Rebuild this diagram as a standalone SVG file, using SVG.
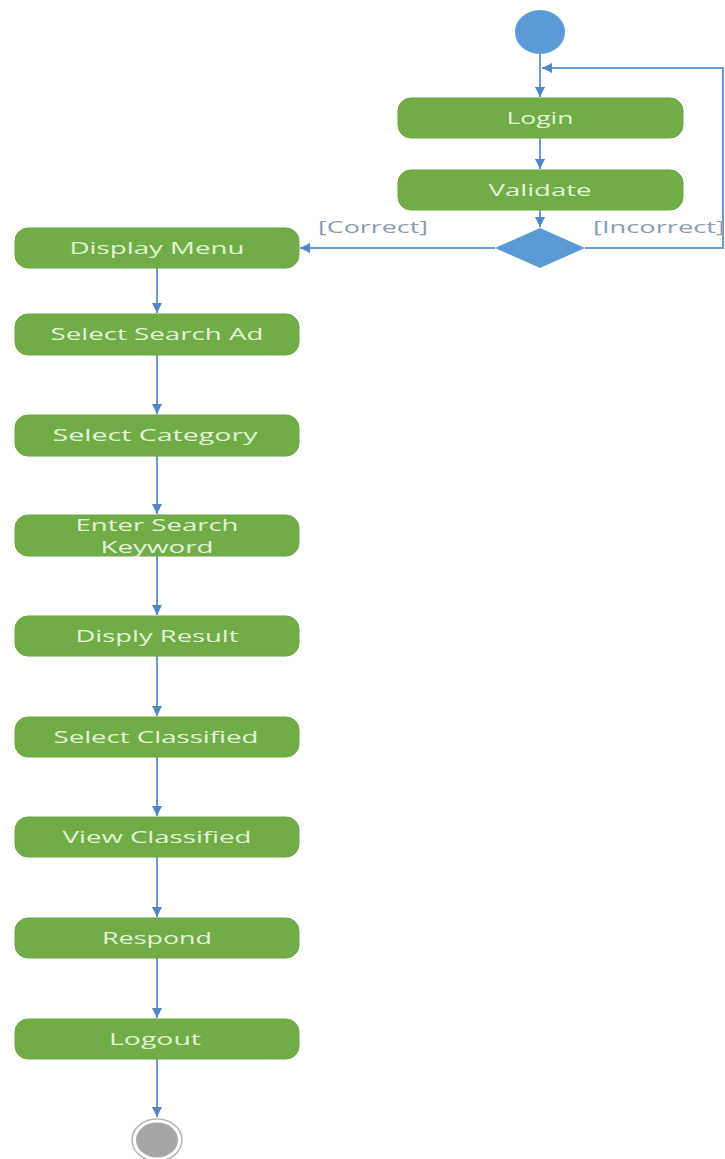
<svg xmlns="http://www.w3.org/2000/svg" width="725" height="1159" viewBox="0 0 725 1159">
  <style>
    .act rect { fill: #70ad47; stroke: #6aa443; stroke-width: 1; }
    .act text { font-family: "Open Sans", "Liberation Sans", sans-serif; font-size: 17px; fill: #e4f2da; text-anchor: middle; }
    .flow { fill: none; stroke: #6b9bd1; stroke-width: 2; }
    .guard { font-family: "Open Sans", "Liberation Sans", sans-serif; font-size: 16px; fill: #8a9bb4; }
  </style>
  <defs>
    <marker id="arrow" markerUnits="userSpaceOnUse" markerWidth="12" markerHeight="10" refX="10" refY="5" orient="auto">
      <path d="M0,0 L10,5 L0,10 z" fill="#4f86c6"/>
    </marker>
  </defs>
  <rect width="725" height="1159" fill="#ffffff"/>

  <!-- connectors -->
  <g id="connectors">
    <path class="flow" d="M540,54 V97" marker-end="url(#arrow)"/>
    <path class="flow" d="M540,138 V169" marker-end="url(#arrow)"/>
    <path class="flow" d="M540,210 V227" marker-end="url(#arrow)"/>
    <path class="flow" d="M495,248 H300" marker-end="url(#arrow)"/>
    <path class="flow" d="M585,248 H723 V68 H542" marker-end="url(#arrow)"/>
    <path class="flow" d="M157,268 V313" marker-end="url(#arrow)"/>
    <path class="flow" d="M157,355 V414" marker-end="url(#arrow)"/>
    <path class="flow" d="M157,456 V514" marker-end="url(#arrow)"/>
    <path class="flow" d="M157,556 V615" marker-end="url(#arrow)"/>
    <path class="flow" d="M157,656 V716" marker-end="url(#arrow)"/>
    <path class="flow" d="M157,757 V816" marker-end="url(#arrow)"/>
    <path class="flow" d="M157,857 V917" marker-end="url(#arrow)"/>
    <path class="flow" d="M157,958 V1018" marker-end="url(#arrow)"/>
    <path class="flow" d="M157,1059 V1117" marker-end="url(#arrow)"/>
    <text class="guard" x="318" y="233" textLength="110" lengthAdjust="spacingAndGlyphs">[Correct]</text>
    <text class="guard" x="593" y="233" textLength="132" lengthAdjust="spacingAndGlyphs">[Incorrect]</text>
  </g>

  <!-- initial node -->
  <g id="start">
    <ellipse cx="540" cy="32" rx="25" ry="22" fill="#5b9bd5"/>
  </g>

  <g id="login" class="act">
    <rect x="398" y="98" width="285" height="40" rx="13"/>
    <text x="540" y="124" textLength="67" lengthAdjust="spacingAndGlyphs">Login</text>
  </g>
  <g id="validate" class="act">
    <rect x="398" y="170" width="285" height="40" rx="13"/>
    <text x="540" y="196" textLength="103" lengthAdjust="spacingAndGlyphs">Validate</text>
  </g>

  <!-- decision -->
  <g id="decision">
    <polygon points="540,228 585,248 540,268 495,248" fill="#5b9bd5"/>
  </g>

  <g id="display-menu" class="act">
    <rect x="15" y="228" width="284" height="40" rx="13"/>
    <text x="157" y="254" textLength="175" lengthAdjust="spacingAndGlyphs">Display Menu</text>
  </g>
  <g id="select-search-ad" class="act">
    <rect x="15" y="314" width="284" height="41" rx="13"/>
    <text x="157" y="340" textLength="213" lengthAdjust="spacingAndGlyphs">Select Search Ad</text>
  </g>
  <g id="select-category" class="act">
    <rect x="15" y="415" width="284" height="41" rx="13"/>
    <text x="155" y="441" textLength="205" lengthAdjust="spacingAndGlyphs">Select Category</text>
  </g>
  <g id="enter-search-keyword" class="act">
    <rect x="15" y="515" width="284" height="41" rx="13"/>
    <text x="157" y="531" textLength="163" lengthAdjust="spacingAndGlyphs">Enter Search</text>
    <text x="157" y="553" textLength="113" lengthAdjust="spacingAndGlyphs">Keyword</text>
  </g>
  <g id="disply-result" class="act">
    <rect x="15" y="616" width="284" height="40" rx="13"/>
    <text x="157" y="642" textLength="163" lengthAdjust="spacingAndGlyphs">Disply Result</text>
  </g>
  <g id="select-classified" class="act">
    <rect x="15" y="717" width="284" height="40" rx="13"/>
    <text x="156" y="743" textLength="205" lengthAdjust="spacingAndGlyphs">Select Classified</text>
  </g>
  <g id="view-classified" class="act">
    <rect x="15" y="817" width="284" height="40" rx="13"/>
    <text x="157" y="843" textLength="189" lengthAdjust="spacingAndGlyphs">View Classified</text>
  </g>
  <g id="respond" class="act">
    <rect x="15" y="918" width="284" height="40" rx="13"/>
    <text x="157" y="944" textLength="110" lengthAdjust="spacingAndGlyphs">Respond</text>
  </g>
  <g id="logout" class="act">
    <rect x="15" y="1019" width="284" height="40" rx="13"/>
    <text x="155" y="1045" textLength="92" lengthAdjust="spacingAndGlyphs">Logout</text>
  </g>

  <!-- final node -->
  <g id="end">
    <ellipse cx="157" cy="1140" rx="25" ry="21" fill="#ffffff" stroke="#b5b5b5" stroke-width="1.5"/>
    <ellipse cx="157" cy="1140" rx="21" ry="17.5" fill="#a6a6a6"/>
  </g>
</svg>
